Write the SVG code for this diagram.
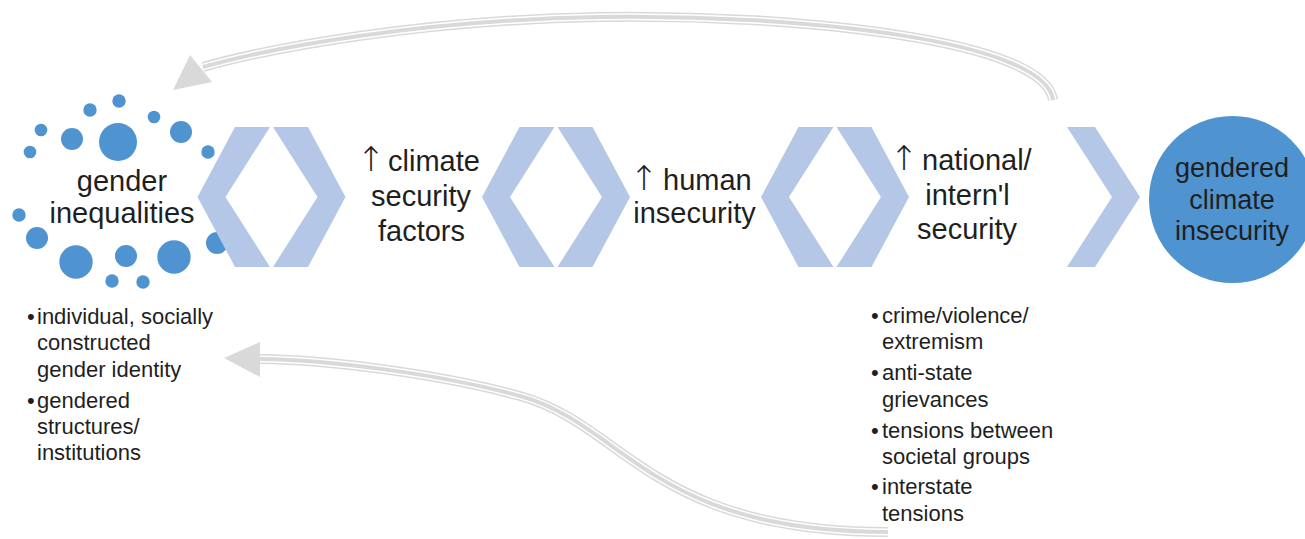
<svg xmlns="http://www.w3.org/2000/svg" width="1305" height="539" viewBox="0 0 1305 539">
<style>
.bg{fill:#ffffff}
.chev{fill:#b4c7e7}
.dot{fill:#4f94d0}
.big{fill:#4f94d0}
.t{font-family:"Liberation Sans",Arial,sans-serif;fill:#1f1f1f}
.arr{font-family:"DejaVu Sans",sans-serif;font-size:34px;font-weight:200;fill:#1f1f1f;text-anchor:middle}
.lbl{font-size:29px}
.ctr{text-anchor:middle}
.blt{font-size:22px}
.cir{font-size:27px}
.c1{fill:none;stroke:#d9d9d9;stroke-width:10}
.c2{fill:none;stroke:#ffffff;stroke-width:7}
.c3{fill:none;stroke:#d9d9d9;stroke-width:4}
.head{fill:#d9d9d9}
</style>
<defs>
<path id="arcTop" d="M 1053 100 C 1045 40, 800 14, 600 17 C 420 20, 270 48, 203 67"/>
<path id="arcBot" d="M 888 532 C 650 532, 625 425, 520 396 C 440 374, 330 360, 260 359"/>
</defs>
<rect class="bg" x="0" y="0" width="1305" height="539"/>

<g id="connectors">
<use href="#arcTop" class="c1"/>
<use href="#arcTop" class="c2"/>
<use href="#arcTop" class="c3"/>
<polygon class="head" points="190,55 212,82 173,90"/>
<use href="#arcBot" class="c1"/>
<use href="#arcBot" class="c2"/>
<use href="#arcBot" class="c3"/>
<polygon class="head" points="260,342 260,377 224,358"/>
</g>

<g id="node-gender-inequalities">
<circle class="dot" cx="119" cy="101" r="6.7"/>
<circle class="dot" cx="90" cy="110" r="6.7"/>
<circle class="dot" cx="154" cy="117" r="6.3"/>
<circle class="dot" cx="41" cy="130" r="6.3"/>
<circle class="dot" cx="72" cy="139" r="11"/>
<circle class="dot" cx="118" cy="142" r="19"/>
<circle class="dot" cx="181" cy="132" r="11"/>
<circle class="dot" cx="30" cy="152" r="6.3"/>
<circle class="dot" cx="208" cy="152" r="6.7"/>
<circle class="dot" cx="19" cy="215" r="6.7"/>
<circle class="dot" cx="37" cy="238" r="11"/>
<circle class="dot" cx="76" cy="262" r="16.7"/>
<circle class="dot" cx="126" cy="256" r="11"/>
<circle class="dot" cx="174" cy="257" r="16.7"/>
<circle class="dot" cx="217" cy="243" r="11"/>
<circle class="dot" cx="112" cy="281" r="6.7"/>
<circle class="dot" cx="143" cy="282" r="6.7"/>
<text class="t lbl ctr" x="122" y="191">gender</text>
<text class="t lbl ctr" x="122" y="223">inequalities</text>
</g>

<g id="notes-gender">
<text class="t blt"><tspan x="27" y="324">•</tspan><tspan x="37" y="324">individual, socially</tspan><tspan x="37" y="350">constructed</tspan><tspan x="37" y="377">gender identity</tspan><tspan x="27" y="408">•</tspan><tspan x="37" y="408">gendered</tspan><tspan x="37" y="434">structures/</tspan><tspan x="37" y="460">institutions</tspan></text>
</g>

<g id="chevrons-1">
<polygon class="chev" points="270,127 235,127 197.5,197 235,267 270,267 225.5,197"/>
<polygon class="chev" points="273,127 308,127 345.5,197 308,267 273,267 317.5,197"/>
</g>

<g id="node-climate-security">
<text class="arr" x="371" y="171">↑</text>
<text class="t lbl" x="388" y="171">climate</text>
<text class="t lbl ctr" x="421" y="206">security</text>
<text class="t lbl ctr" x="421.5" y="241">factors</text>
</g>

<g id="chevrons-2">
<polygon class="chev" points="554.5,127 519.5,127 482,197 519.5,267 554.5,267 510,197"/>
<polygon class="chev" points="557.5,127 592.5,127 630,197 592.5,267 557.5,267 602,197"/>
</g>

<g id="node-human-insecurity">
<text class="arr" x="644" y="190">↑</text>
<text class="t lbl" x="663" y="190">human</text>
<text class="t lbl ctr" x="694.5" y="223">insecurity</text>
</g>

<g id="chevrons-3">
<polygon class="chev" points="833.5,127 798.5,127 761,197 798.5,267 833.5,267 789,197"/>
<polygon class="chev" points="836.5,127 871.5,127 909,197 871.5,267 836.5,267 881,197"/>
</g>

<g id="node-national-security">
<text class="arr" x="904" y="170">↑</text>
<text class="t lbl" x="922" y="170">national/</text>
<text class="t lbl ctr" x="967.5" y="205">intern'l</text>
<text class="t lbl ctr" x="967" y="239">security</text>
</g>

<g id="notes-national">
<text class="t blt"><tspan x="871" y="323">•</tspan><tspan x="882" y="323">crime/violence/</tspan><tspan x="882" y="349">extremism</tspan><tspan x="871" y="380">•</tspan><tspan x="882" y="380">anti-state</tspan><tspan x="882" y="407">grievances</tspan><tspan x="871" y="438">•</tspan><tspan x="882" y="438">tensions between</tspan><tspan x="882" y="464">societal groups</tspan><tspan x="871" y="494">•</tspan><tspan x="882" y="494">interstate</tspan><tspan x="882" y="521">tensions</tspan></text>
</g>

<g id="chevron-4">
<polygon class="chev" points="1067,127 1095,127 1140,197 1095,267 1067,267 1112,197"/>
</g>

<g id="node-gendered-climate-insecurity">
<circle class="big" cx="1232.5" cy="199.5" r="83.5"/>
<text class="t cir ctr" x="1232" y="177">gendered</text>
<text class="t cir ctr" x="1232" y="208.5">climate</text>
<text class="t cir ctr" x="1232" y="240">insecurity</text>
</g>
</svg>
